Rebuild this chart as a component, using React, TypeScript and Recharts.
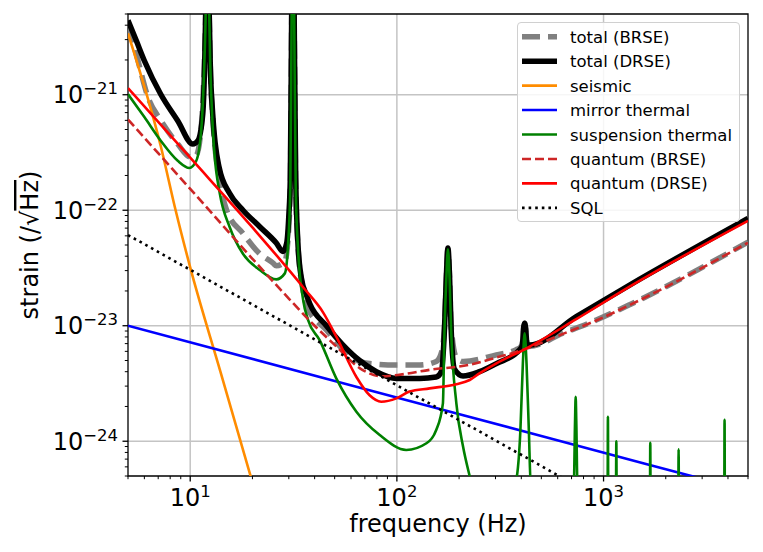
import * as React from 'react';
import { LineChart, Line, XAxis, YAxis, CartesianGrid, Legend, ReferenceArea } from 'recharts';

// each point: [frequency (Hz), strain (/rtHz)]
type Pt = [number, number];

const TOTAL_BRSE: Pt[] = [
  [5, 4.0e-21], [5.5, 2.2e-21], [6.25, 9.5e-22], [7.2, 6.0e-22], [8.7, 3.74e-22], [10.1, 2.87e-22],
  [10.7, 3.0e-22], [11.3, 5.2e-22], [11.7, 1.86e-21], [11.88, 5e-21], [12.12, 1e-19], [12.36, 5e-21],
  [12.5, 1.86e-21], [12.85, 6.5e-22], [13.9, 1.8e-22], [15, 1.0e-22], [18, 6.3e-23], [21.7, 4.2e-23],
  [25.1, 3.5e-23], [26.1, 3.3e-23], [28.7, 3.6e-23], [29.7, 5.5e-23], [30.5, 1.65e-22], [30.97, 5e-21],
  [31.4, 1e-19], [31.84, 5e-21], [32.4, 1.65e-22], [33.2, 5e-23], [35.2, 2.0e-23], [36.5, 1.5e-23],
  [45.6, 9.2e-24], [61.4, 5.2e-24], [73.8, 4.7e-24], [99.5, 4.57e-24], [129, 4.57e-24], [155, 4.9e-24],
  [165, 6e-24], [170, 1.0e-23], [173.4, 2.55e-23], [176.6, 4.6e-23], [180, 2.55e-23], [183, 1.0e-23],
  [194, 5.3e-24], [209, 4.9e-24], [303, 5.6e-24], [378, 6.2e-24], [396, 6.5e-24], [407, 7.5e-24],
  [415, 1.05e-23], [424, 7.5e-24], [435, 6.6e-24], [636, 8.6e-24], [922, 1.12e-23], [1337, 1.52e-23],
  [5000, 5.3e-23],
];

const TOTAL_DRSE: Pt[] = [
  [5, 4.4e-21], [5.5, 2.9e-21], [6, 1.97e-21], [7.2, 1.01e-21], [8.7, 5.96e-22], [10.3, 3.74e-22],
  [10.9, 4.0e-22], [11.5, 6.8e-22], [11.75, 1.9e-21], [11.88, 5e-21], [12.12, 1e-19], [12.36, 5e-21],
  [12.5, 1.9e-21], [12.85, 6.8e-22], [13.8, 2.35e-22], [15.5, 1.4e-22], [18, 1.0e-22], [21.7, 7.2e-23],
  [26.1, 5.2e-23], [28.1, 4.4e-23], [29.3, 5.2e-23], [30, 9e-23], [30.5, 1.9e-22], [30.97, 5e-21],
  [31.4, 1e-19], [31.84, 5e-21], [32.4, 1.9e-22], [33.2, 5.2e-23], [34.5, 2.6e-23], [36.5, 1.85e-23],
  [37.9, 1.55e-23], [45.6, 1.0e-23], [54.9, 6.8e-24], [66, 5.0e-24], [79.6, 4.0e-24], [99.5, 3.5e-24],
  [129, 3.5e-24], [155, 3.6e-24], [164, 4.0e-24], [170, 9.5e-24], [173.4, 2.55e-23], [176.6, 4.7e-23],
  [180, 2.55e-23], [183, 9.5e-24], [190, 4.2e-24], [209, 3.67e-24], [251, 4.0e-24], [303, 4.7e-24],
  [393, 6.2e-24], [405, 6.8e-24], [410, 9.5e-24], [415, 1.05e-23], [420, 9.5e-24], [426, 6.9e-24],
  [439, 6.8e-24], [738, 1.2e-23], [1337, 2.25e-23], [5000, 8.5e-23],
];

const SEISMIC: Pt[] = [
  [5, 3.4e-21], [7.2, 3.6e-22], [8.5, 1.0e-22], [10, 3.2e-23], [14, 4.0e-24], [20, 4.4e-25],
];

const MIRROR_THERMAL: Pt[] = [
  [5, 1.0e-23], [50, 3.33e-24], [500, 1.11e-24], [5000, 3.7e-25],
];

const SUSPENSION_THERMAL: Pt[] = [
  [5, 1.01e-21], [6, 6.4e-22], [7.2, 4.0e-22], [8.7, 2.68e-22], [9.9, 2.32e-22], [10.7, 2.68e-22],
  [11.3, 4.9e-22], [11.7, 1.85e-21], [11.88, 5e-21], [12.12, 1e-19], [12.36, 5e-21], [12.5, 1.85e-21],
  [12.8, 6e-22], [13.1, 3.1e-22], [13.9, 1.4e-22], [15.5, 7.2e-23], [18, 4.2e-23], [21.7, 3.04e-23],
  [26.1, 2.52e-23], [28.7, 2.84e-23], [29.7, 4.8e-23], [30.5, 1.6e-22], [30.97, 5e-21], [31.4, 1e-19],
  [31.84, 5e-21], [32.4, 1.6e-22], [33.2, 4.8e-23], [35.2, 1.67e-23], [37.2, 1.12e-23], [42.3, 7.5e-24],
  [50.9, 3.5e-24], [63.7, 1.8e-24], [82.6, 1.13e-24], [111, 8.4e-25], [139, 9.6e-25], [155, 1.25e-24],
  [167, 2.13e-24], [170, 9.2e-24], [173.4, 2.5e-23], [176.6, 4.6e-23], [180, 2.5e-23], [183, 9.2e-24],
  [194, 2.13e-24], [209, 9e-25], [225, 5e-25], [250, 2.5e-25], [340, 2.5e-25], [381, 5e-25],
  [396, 1.25e-24], [407, 4.7e-24], [415, 8.6e-24], [424, 4.7e-24], [435, 1.25e-24], [445, 4e-25],
  [700, 3e-25], [718, 4e-25], [728, 1.5e-24], [733, 2.43e-24], [738, 1.5e-24], [748, 4e-25],
  [1046, 3e-25], [1050, 1.63e-24], [1054, 3e-25],
  [1148, 3e-25], [1153, 1.0e-24], [1158, 3e-25],
  [1677, 3e-25], [1683, 9.7e-25], [1689, 3e-25],
  [2300, 3e-25], [2308, 8.5e-25], [2316, 3e-25],
  [3838, 3e-25], [3851, 1.53e-24], [3864, 3e-25], [5000, 3e-25],
];

const QUANTUM_BRSE: Pt[] = [
  [5, 6.1e-22], [10, 1.53e-22], [20, 3.8e-23], [30, 1.72e-23], [40, 1.0e-23], [51, 6.6e-24],
  [66, 4.3e-24], [85, 3.65e-24], [101, 3.75e-24], [144, 4.15e-24], [225, 4.6e-24], [303, 5.3e-24],
  [415, 6.25e-24], [636, 8.5e-24], [922, 1.11e-23], [1337, 1.51e-23], [5000, 5.24e-23],
];

const QUANTUM_DRSE: Pt[] = [
  [5, 1.14e-21], [10, 2.85e-22], [20, 7.1e-23], [35.6, 2.1e-23], [44, 1.3e-23], [51, 8.0e-24],
  [63.7, 3.6e-24], [73.8, 2.5e-24], [84, 2.2e-24], [99.5, 2.35e-24], [115, 2.69e-24], [144, 2.87e-24],
  [194, 3.12e-24], [225, 3.39e-24], [251, 3.87e-24], [303, 4.73e-24], [415, 6.25e-24], [738, 1.14e-23],
  [1337, 2.18e-23], [5000, 8.1e-23],
];

const SQL: Pt[] = [
  [5, 6.1e-23], [50, 6.1e-24], [500, 6.1e-25], [1000, 3.05e-25],
];

const X_DECADES = [1, 2, 3];
const Y_DECADES = [-24, -23, -22, -21];
const MINOR_STEPS = [2, 3, 4, 5, 6, 7, 8, 9];
const F_RANGE = [5, 5000];
const S_RANGE = [5e-25, 5e-21];

const FONT = 'DejaVu Sans';

const X_DOMAIN = F_RANGE.map(Math.log10);
const Y_DOMAIN = S_RANGE.map(Math.log10);

function logTicks(lo: number, hi: number) {
  const out: number[] = [];
  for (let d = Math.floor(lo); d <= Math.ceil(hi); d++) {
    for (const k of [1, ...MINOR_STEPS]) {
      const v = d + Math.log10(k);
      if (v >= lo - 1e-9 && v <= hi + 1e-9) out.push(v);
    }
  }
  return out;
}

const toLog = (pts: Pt[]) => pts.map(([f, s]) => ({ x: Math.log10(f), y: Math.log10(s) }));

const SERIES = [
  { name: 'total (BRSE)', pts: TOTAL_BRSE, color: 'gray', width: 5.5, dash: '18 8' },
  { name: 'total (DRSE)', pts: TOTAL_DRSE, color: '#000000', width: 5.5 },
  { name: 'seismic', pts: SEISMIC, color: 'darkorange', width: 2.6 },
  { name: 'mirror thermal', pts: MIRROR_THERMAL, color: 'blue', width: 2.6 },
  { name: 'suspension thermal', pts: SUSPENSION_THERMAL, color: 'green', width: 2.6 },
  { name: 'quantum (BRSE)', pts: QUANTUM_BRSE, color: '#cd2626', width: 2.6, dash: '9 4' },
  { name: 'quantum (DRSE)', pts: QUANTUM_DRSE, color: 'red', width: 2.6 },
  { name: 'SQL', pts: SQL, color: '#000000', width: 2.6, dash: '2.6 4' },
];

const isMajor = (v: number) => Math.abs(v - Math.round(v)) < 1e-6;

function XTick(props: any) {
  const { x, y, payload } = props;
  const major = isMajor(payload.value);
  return (
    <g>
      <line x1={x} x2={x} y1={y} y2={y + (major ? 5.5 : 3.2)} stroke="#000" strokeWidth={major ? 1.3 : 1} />
      {major && (
        <text x={x} y={y + 30} textAnchor="middle" fontFamily={FONT} fontSize={24} fill="#000">
          10<tspan dy={-9} fontSize={16.5}>{Math.round(payload.value)}</tspan>
        </text>
      )}
    </g>
  );
}

function YTick(props: any) {
  const { x, y, payload } = props;
  const major = isMajor(payload.value);
  return (
    <g>
      <line x1={x - (major ? 5.5 : 3.2)} x2={x} y1={y} y2={y} stroke="#000" strokeWidth={major ? 1.3 : 1} />
      {major && (
        <text x={x - 10} y={y + 8.5} textAnchor="end" fontFamily={FONT} fontSize={24} fill="#000">
          10<tspan dy={-9} fontSize={16.5}>{'\u2212' + Math.abs(Math.round(payload.value))}</tspan>
        </text>
      )}
    </g>
  );
}

function XTitle() {
  return (
    <text x={430} y={524} textAnchor="middle" fontFamily={FONT} fontSize={24} fill="#000">
      frequency (Hz)
    </text>
  );
}

function YTitle() {
  return (
    <text x={30} y={237} transform="rotate(-90 30 237)" textAnchor="middle" fontFamily={FONT} fontSize={24} fill="#000">
      strain (/{'\u221A'}<tspan style={{ textDecoration: 'overline' }}>Hz</tspan>)
    </text>
  );
}

function LegendBox() {
  return (
    <div style={{ width: 223, height: 200, boxSizing: 'border-box', border: '1px solid #d0d0d0', borderRadius: 4, background: 'rgba(255,255,255,0.85)' }}>
      <svg width={221} height={198} style={{ display: 'block' }}>
        {SERIES.map((s, i) => {
          const cy = 13.7 + i * 24.45;
          return (
            <g key={s.name}>
              <line x1={4} x2={39} y1={cy} y2={cy} stroke={s.color} strokeWidth={s.width} strokeDasharray={s.dash} />
              <text x={52} y={cy + 6} fontFamily={FONT} fontSize={16.5} fill="#000">{s.name}</text>
            </g>
          );
        })}
      </svg>
    </div>
  );
}

export default function App() {
  return (
    <LineChart width={755} height={544} margin={{ top: 6, right: 15, left: 0, bottom: 0 }}>
      <CartesianGrid verticalValues={X_DECADES} horizontalValues={Y_DECADES} stroke="#c4c4c4" strokeWidth={1.5} />
      <XAxis
        dataKey="x"
        type="number"
        domain={X_DOMAIN}
        allowDataOverflow
        ticks={logTicks(X_DOMAIN[0], X_DOMAIN[1])}
        interval={0}
        tick={<XTick />}
        tickLine={false}
        tickSize={0}
        tickMargin={0}
        axisLine={false}
        height={76}
        label={<XTitle />}
      />
      <YAxis
        dataKey="y"
        type="number"
        domain={Y_DOMAIN}
        allowDataOverflow
        ticks={logTicks(Y_DOMAIN[0], Y_DOMAIN[1])}
        interval={0}
        tick={<YTick />}
        tickLine={false}
        tickSize={0}
        tickMargin={0}
        axisLine={false}
        width={120}
        label={<YTitle />}
      />
      {SERIES.map((s) => (
        <Line
          key={s.name}
          name={s.name}
          data={toLog(s.pts)}
          dataKey="y"
          type="monotone"
          stroke={s.color}
          strokeWidth={s.width}
          strokeDasharray={s.dash}
          strokeLinejoin="round"
          dot={false}
          activeDot={false}
          isAnimationActive={false}
        />
      ))}
      <ReferenceArea x1={X_DOMAIN[0]} x2={X_DOMAIN[1]} y1={Y_DOMAIN[0]} y2={Y_DOMAIN[1]} fill="none" stroke="#000" strokeWidth={1.3} />
      <Legend
        layout="vertical"
        align="center"
        verticalAlign="middle"
        content={() => <LegendBox />}
        wrapperStyle={{ left: 509, top: 14, width: 223, height: 200 }}
      />
    </LineChart>
  );
}
